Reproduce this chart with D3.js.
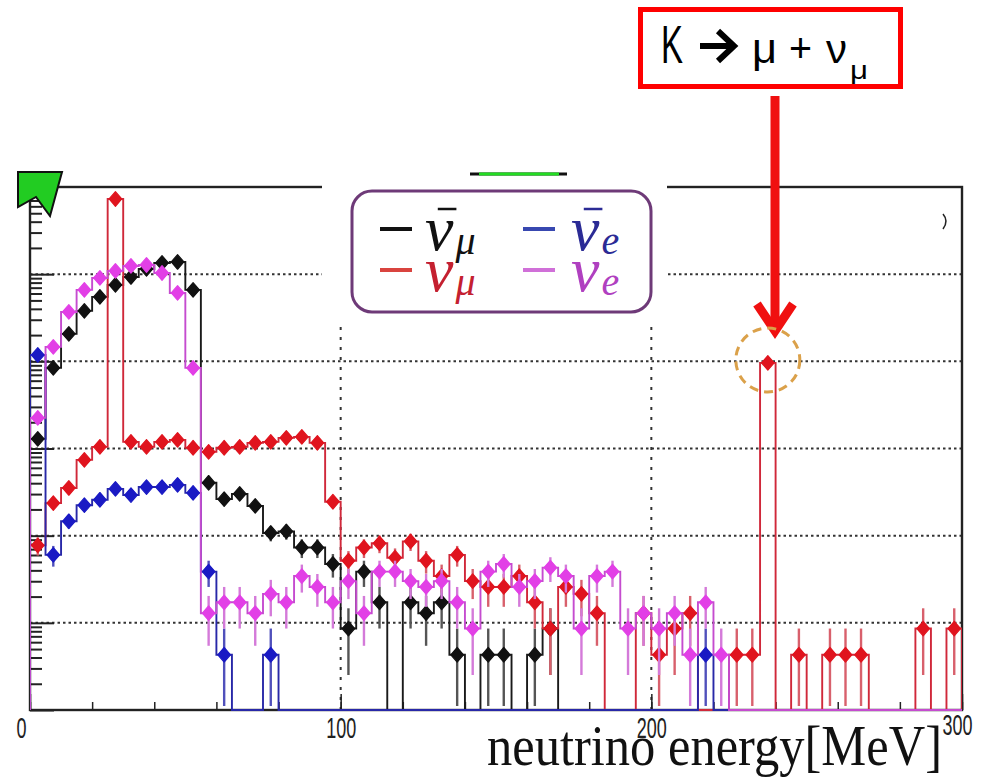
<!DOCTYPE html>
<html><head><meta charset="utf-8">
<script src="https://cdn.jsdelivr.net/npm/d3@7/dist/d3.min.js"></script>
<style>html,body{margin:0;padding:0;background:#fff}svg{display:block}</style>
</head><body>
<svg id="c" width="992" height="782"></svg>
<script>
// ---------------- data (event counts per 5 MeV bin, 0–300 MeV) ----------------
const binLow = d3.range(0, 300, 5);           // bin lower edges [MeV]
const binWidth = 5;
const eventWeight = 0.43;                      // normalisation of one event
const numuBar = [300,1955,4800,8810,12760,17500,21600,26700,31270,32100,
  15340,94,61,70,51,25,26,17,17,11,
  2,9,4,0,4,3,4,1,0,1,
  1,0,1,2,0,0,0,0,0,0,
  0,0,0,0,0,0,0,0,0,0,
  0,0,0,0,0,0,0,0,0,0];
const numu = [18,55,82,172,243,169500,277,243,277,292,
  237,213,237,243,270,277,308,316,270,57,
  12,17,19,13,20,12,8,14,7,6,
  6,8,4,2,6,5,3,0,0,3,
  1,2,3,0,0,1,1,2233,0,1,
  0,1,1,1,0,0,0,2,0,2];
const nueBar = [2750,14,34,52,60,80,68,84,84,89,
  72,9,1,0,0,1,0,0,0,0,
  0,0,0,0,0,0,0,0,0,0,
  0,0,0,0,0,0,0,0,0,0,
  0,0,0,1,0,0,0,0,0,0,
  0,0,0,0,0,0,0,0,0,0];
const nue = [522,3404,8575,15340,21050,25350,28900,29650,24000,14160,
  1955,3,4,4,3,5,4,8,6,4,
  7,3,9,9,7,6,7,4,2,9,
  11,6,7,10,8,2,8,9,2,3,
  2,3,1,4,1,0,0,0,0,0,
  0,0,0,0,0,0,0,0,0,0];
const xTickLabels = [0, 100, 200, 300];
const xMinorTicks = d3.range(0, 301, 20);
const yGrid = [1, 10, 100, 1000, 10000];
const xGrid = [100, 200];

const series = [
  {name:"numuBar", data:numuBar, line:"#1a1a1a", mark:"#111111", err:"#555555"},
  {name:"numu",    data:numu,    line:"#d0283a", mark:"#e0141e", err:"#d8606c"},
  {name:"nueBar",  data:nueBar,  line:"#2828a8", mark:"#1a1ac4", err:"#5050bb"},
  {name:"nue",     data:nue,     line:"#c54ccf", mark:"#e23fe6", err:"#d47ad9"}
];

// ---------------- layout ----------------
const svg = d3.select("#c");
const P = {left:30, right:962, top:187, bottom:710};
const x = d3.scaleLinear().domain([0,300]).range([P.left, P.right]);
const y = d3.scaleLog().domain([0.1,1e5]).range([P.bottom, P.top]).clamp(true);
const yOf = c => c > 0 ? y(c*eventWeight) : P.bottom;

svg.append("defs").append("clipPath").attr("id","clip")
  .append("rect").attr("x",P.left).attr("y",P.top).attr("width",P.right-P.left).attr("height",P.bottom-P.top+2);

// gridlines
const g0 = svg.append("g");
g0.selectAll("line.hg").data(yGrid).join("line")
  .attr("x1",P.left).attr("x2",P.right).attr("y1",d=>y(d)).attr("y2",d=>y(d))
  .attr("stroke","#333").attr("stroke-width",2).attr("stroke-dasharray","2.5,3");
g0.selectAll("line.vg").data(xGrid).join("line")
  .attr("x1",d=>x(d)).attr("x2",d=>x(d)).attr("y1",P.top).attr("y2",P.bottom)
  .attr("stroke","#333").attr("stroke-width",2).attr("stroke-dasharray","3,7");

// frame
svg.append("rect").attr("x",P.left).attr("y",P.top).attr("width",P.right-P.left).attr("height",P.bottom-P.top)
  .attr("fill","none").attr("stroke","#222").attr("stroke-width",2.4);

// y ticks (inside)
const yT = y.ticks();
const yMajor = yT.filter(v => Math.abs(Math.log10(v) - Math.round(Math.log10(v))) < 1e-9);
const yMinor = yT.filter(v => !yMajor.includes(v));
svg.append("g").attr("transform",`translate(${P.left},0)`)
  .call(d3.axisRight(y).tickValues(yMinor).tickSize(12).tickFormat(""))
  .call(g=>{g.select(".domain").remove(); g.selectAll("line").attr("stroke","#222").attr("stroke-width",2);});
svg.append("g").attr("transform",`translate(${P.left},0)`)
  .call(d3.axisRight(y).tickValues(yMajor).tickSize(24).tickFormat(""))
  .call(g=>{g.select(".domain").remove(); g.selectAll("line").attr("stroke","#222").attr("stroke-width",2);});

// x ticks (inside)
svg.append("g").attr("transform",`translate(0,${P.bottom})`)
  .call(d3.axisTop(x).tickValues(xMinorTicks).tickSize(8).tickFormat(""))
  .call(g=>{g.select(".domain").remove(); g.selectAll("line").attr("stroke","#222").attr("stroke-width",1.5);});
svg.append("g").attr("transform",`translate(0,${P.bottom})`)
  .call(d3.axisTop(x).tickValues(xTickLabels).tickSize(16).tickFormat(""))
  .call(g=>{g.select(".domain").remove(); g.selectAll("line").attr("stroke","#222").attr("stroke-width",1.5);});

// x labels
svg.append("g").attr("transform",`translate(0,${P.bottom})`)
  .call(d3.axisBottom(x).tickValues(xTickLabels).tickSize(0).tickPadding(7).tickFormat(d3.format("d")))
  .call(g=>{
    g.select(".domain").remove();
    g.selectAll("text").attr("font-family","Liberation Sans, Arial, sans-serif").attr("font-size",30)
      .attr("fill","#222")
      .attr("textLength",d=>d===0?10:30).attr("lengthAdjust","spacingAndGlyphs")
      .attr("x",d=>d===0?-9:(d===300?-5:0))
      .attr("y",d=>d===300?4:7);
  });

// ---------------- histograms ----------------
const plotG = svg.append("g").attr("clip-path","url(#clip)");
const line = d3.line().x(d=>d[0]).y(d=>d[1]);
const marker = {draw(ctx,size){const h=Math.sqrt(size)/2; ctx.moveTo(0,-h*1.15); ctx.lineTo(h,0); ctx.lineTo(0,h*1.15); ctx.lineTo(-h,0); ctx.closePath();}};
const sym = d3.symbol().type(marker).size(160);

series.forEach(s=>{
  const pts = [[x(0),P.bottom]];
  s.data.forEach((c,i)=>{
    pts.push([x(binLow[i]), yOf(c)]);
    pts.push([x(binLow[i]+binWidth), yOf(c)]);
  });
  pts.push([x(300),P.bottom]);
  const g = plotG.append("g").attr("class",s.name);
  g.append("path").attr("d",line(pts)).attr("fill","none").attr("stroke",s.line).attr("stroke-width",1.9);
  const nz = s.data.map((c,i)=>({c,i})).filter(d=>d.c>0);
  g.selectAll("line.err").data(nz).join("line")
    .attr("x1",d=>x(binLow[d.i]+binWidth/2)).attr("x2",d=>x(binLow[d.i]+binWidth/2))
    .attr("y1",d=>y((d.c+Math.sqrt(d.c))*eventWeight))
    .attr("y2",d=>{const lo=d.c-Math.sqrt(d.c); return lo>0? y(lo*eventWeight):P.bottom-4;})
    .attr("stroke",s.err).attr("stroke-width",2.4);
  g.selectAll("path.mk").data(nz).join("path")
    .attr("transform",d=>`translate(${x(binLow[d.i]+binWidth/2)},${yOf(d.c)})`)
    .attr("d",sym).attr("fill",s.mark).attr("stroke",s.mark).attr("stroke-width",1.2).attr("stroke-linejoin","round");
});

// ---------------- cover patch & decorations ----------------
svg.append("rect").attr("x",322).attr("y",160).attr("width",345).attr("height",160).attr("fill","#fff");
svg.append("line").attr("x1",470).attr("x2",567).attr("y1",174).attr("y2",174).attr("stroke","#111").attr("stroke-width",3);
svg.append("line").attr("x1",479).attr("x2",559).attr("y1",174).attr("y2",174).attr("stroke","#22dd22").attr("stroke-width",3);
// green flag at top-left
svg.append("path").attr("d","M18,172 L62,172 L50,216 L36,197 L18,207 Z").attr("fill","#22cc22").attr("stroke","#111").attr("stroke-width",2);
svg.append("path").attr("d","M943,214 Q949,221 943,229").attr("fill","none").attr("stroke","#222").attr("stroke-width",1.5);

// ---------------- legend ----------------
const lg = svg.append("g");
lg.append("rect").attr("x",352).attr("y",191).attr("width",299).attr("height",121).attr("rx",20)
  .attr("fill","#fff").attr("stroke","#6e3a78").attr("stroke-width",3);
const legendItems = [
  {sub:"μ", bar:true,  text:"#111111", dash:"#111111", dx:380, tx:425, row:0},
  {sub:"e", bar:true,  text:"#2b2b95", dash:"#3848b0", dx:523, tx:571, row:0},
  {sub:"μ", bar:false, text:"#c42030", dash:"#d9443f", dx:380, tx:425, row:1},
  {sub:"e", bar:false, text:"#b040c0", dash:"#d070d8", dx:523, tx:571, row:1}
];
const rowDash=[229,270], rowBase=[250,291];
legendItems.forEach(it=>{
  lg.append("line").attr("x1",it.dx).attr("x2",it.dx+32).attr("y1",rowDash[it.row]).attr("y2",rowDash[it.row])
    .attr("stroke",it.dash).attr("stroke-width",4);
  const t = lg.append("text").attr("x",it.tx).attr("y",rowBase[it.row])
    .attr("font-family","Liberation Serif, Times New Roman, serif").attr("font-style","italic")
    .attr("font-size",64).attr("fill",it.text).text("ν");
  const w = t.node().getComputedTextLength();
  lg.append("text").attr("x",it.tx+w+2).attr("y",rowBase[it.row]+4)
    .attr("font-family","Liberation Serif, Times New Roman, serif").attr("font-style","italic")
    .attr("font-size",40).attr("fill",it.text).text(it.sub);
  if(it.bar){
    lg.append("line").attr("x1",it.tx+w*0.45).attr("x2",it.tx+w+3)
      .attr("y1",rowBase[it.row]-41).attr("y2",rowBase[it.row]-41)
      .attr("stroke",it.text).attr("stroke-width",2.5);
  }
});

// ---------------- annotation ----------------
const an = svg.append("g");
an.append("rect").attr("x",640.5).attr("y",9.5).attr("width",260).attr("height",77)
  .attr("fill","#fff").attr("stroke","#ff0000").attr("stroke-width",5);
const sans = "Liberation Sans, Arial, sans-serif";
an.append("text").attr("x",661).attr("y",63).attr("font-family",sans).attr("font-size",53)
  .attr("textLength",22).attr("lengthAdjust","spacingAndGlyphs").attr("fill","#000").text("K");
an.append("path").attr("d","M700,46 L733,46 M718,31 L734,46 L718,61").attr("fill","none")
  .attr("stroke","#000").attr("stroke-width",6).attr("stroke-linejoin","miter");
an.append("text").attr("x",752).attr("y",63).attr("font-family",sans).attr("font-size",42)
  .attr("textLength",25).attr("lengthAdjust","spacingAndGlyphs").attr("fill","#000").text("μ");
an.append("text").attr("x",789).attr("y",62).attr("font-family",sans).attr("font-size",40)
  .attr("textLength",23).attr("lengthAdjust","spacingAndGlyphs").attr("fill","#000").text("+");
an.append("text").attr("x",826).attr("y",63).attr("font-family",sans).attr("font-size",40)
  .attr("textLength",21).attr("lengthAdjust","spacingAndGlyphs").attr("fill","#000").text("ν");
an.append("text").attr("x",850).attr("y",79).attr("font-family",sans).attr("font-size",25)
  .attr("textLength",18).attr("lengthAdjust","spacingAndGlyphs").attr("fill","#000").text("μ");
// red arrow
an.append("line").attr("x1",775).attr("x2",775).attr("y1",96).attr("y2",328).attr("stroke","#f01010").attr("stroke-width",9);
an.append("path").attr("d","M757,304 L775,331 L793,304").attr("fill","none").attr("stroke","#f01010").attr("stroke-width",9);
// dashed circle
an.append("circle").attr("cx",x(237.5)).attr("cy",360).attr("r",32).attr("fill","none")
  .attr("stroke","#dba14a").attr("stroke-width",3).attr("stroke-dasharray","9,6");

// axis title
svg.append("text").attr("x",487).attr("y",765).attr("font-family","Liberation Serif, Times New Roman, serif")
  .attr("font-size",56).attr("textLength",455).attr("lengthAdjust","spacingAndGlyphs").attr("fill","#111")
  .text("neutrino energy[MeV]");
</script>
</body></html>
